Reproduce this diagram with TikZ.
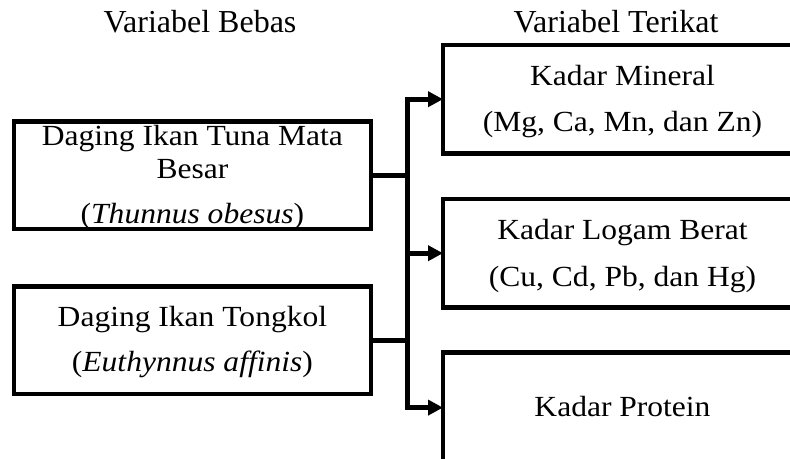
\documentclass[tikz,border=0pt]{standalone}
\usepackage{fontspec}
\setmainfont{Liberation Serif}[FakeStretch=1.08]
\newfontfamily\headfont{Liberation Serif}
\usetikzlibrary{arrows.meta}
\begin{document}
\begin{tikzpicture}[x=1pt,y=-1pt,
  box/.style={draw, line width=4.6pt, inner sep=0pt, outer sep=0pt},
  lbox/.style={box, minimum width=356.8pt, minimum height=107.3pt},
  rbox/.style={box, minimum width=359pt, minimum height=108.3pt},
  txt/.style={anchor=base, inner sep=0pt, font=\fontsize{29.2}{34}\selectfont},
  head/.style={anchor=base, inner sep=0pt, font=\headfont\fontsize{32}{38}\selectfont},
  conn/.style={line width=4.6pt},
  arr/.style={line width=4.6pt, -{Triangle[length=15pt,width=15pt]}}]
\clip (0,0) rectangle (790,458);
\useasboundingbox (0,0) rectangle (790,458);
% headers
\node[head] (hb) at (200,32) {Variabel Bebas};
\node[head] (ht) at (616,32) {Variabel Terikat};
% left boxes
\node[lbox] (b1) at (192.4,175.4) {};
\node[lbox] (b2) at (192.4,340.2) {};
\node[txt] (b1a) at (192.4,145) {Daging Ikan Tuna Mata};
\node[txt] (b1b) at (192.4,178) {Besar};
\node[txt] (b1c) at (192.4,223) {(\textit{Thunnus obesus})};
\node[txt] (b2a) at (192.4,326.7) {Daging Ikan Tongkol};
\node[txt] (b2b) at (192.4,371.7) {(\textit{Euthynnus affinis})};
% right boxes
\node[rbox] (r1) at (622.5,99.2) {};
\node[rbox] (r2) at (622.5,253.2) {};
\node[rbox, minimum height=110.6pt] (r3) at (622.5,407.6) {};
\node[txt] (r1a) at (622.5,85.7) {Kadar Mineral};
\node[txt] (r1b) at (622.5,131.7) {(Mg, Ca, Mn, dan Zn)};
\node[txt] (r2a) at (622.5,239.3) {Kadar Logam Berat};
\node[txt] (r2b) at (622.5,286) {(Cu, Cd, Pb, dan Hg)};
\node[txt] (r3a) at (622.5,416) {Kadar Protein};
% connectors
\coordinate (sp) at (407.3,253);
\draw[conn] (b1.east) -- (b1.east -| sp);
\draw[conn] (b2.east) -- (b2.east -| sp);
\draw[conn, line cap=rect] (r1.west -| sp) -- (r3.west -| sp);
\draw[arr] (r1.west -| sp) -- (r1.west);
\draw[arr] (r2.west -| sp) -- (r2.west);
\draw[arr] (r3.west -| sp) -- (r3.west);
\end{tikzpicture}
\end{document}
